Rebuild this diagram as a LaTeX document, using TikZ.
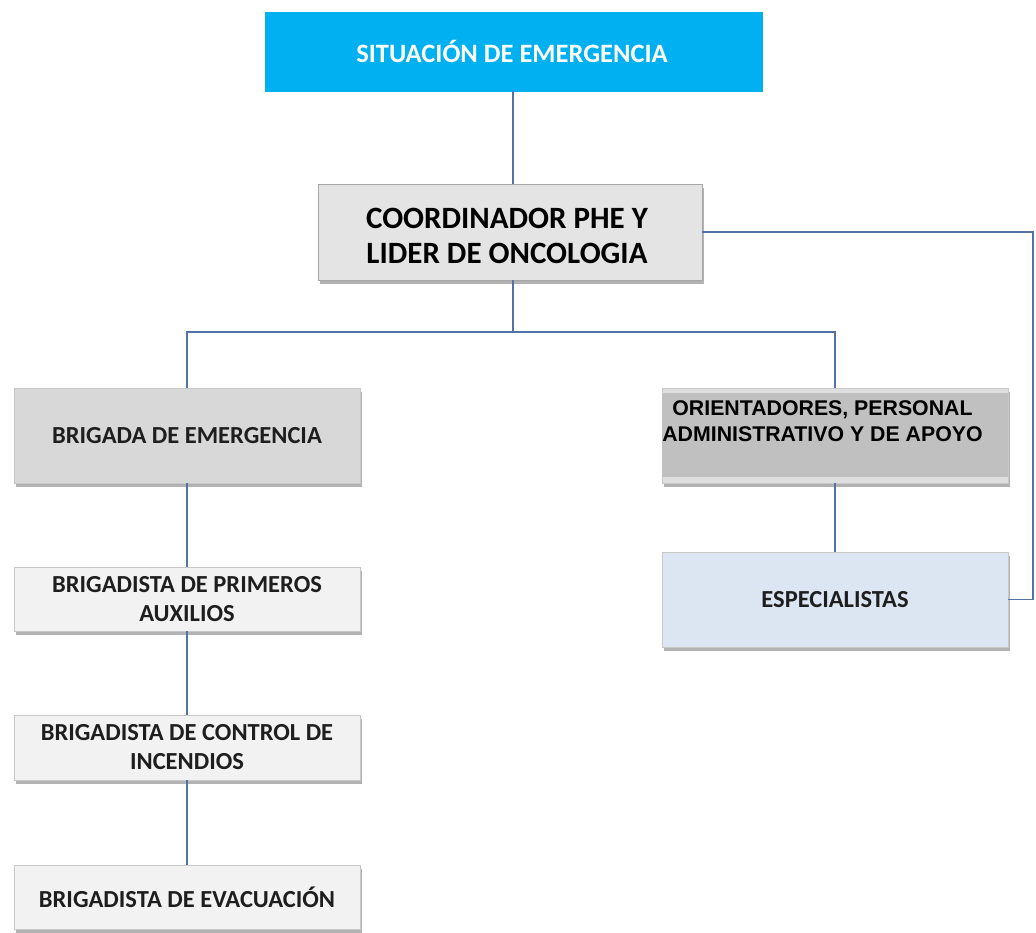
\documentclass[tikz,border=0pt]{standalone}
\usepackage{fontspec}
\setmainfont{Carlito}
\newfontfamily\arialfont{Liberation Sans}
\usetikzlibrary{shadows}
\definecolor{cyanbox}{RGB}{0,176,240}
\definecolor{linecol}{RGB}{84,114,163}
\definecolor{boxedge}{RGB}{200,200,200}
\definecolor{coordfill}{RGB}{228,228,228}
\definecolor{brigfill}{RGB}{216,216,216}
\definecolor{orfill}{RGB}{192,192,192}
\definecolor{orlight}{RGB}{222,222,222}
\definecolor{espfill}{RGB}{220,230,242}
\definecolor{subfill}{RGB}{242,242,242}
\definecolor{txt}{RGB}{30,30,30}
\tikzset{
  plainbox/.style={draw=boxedge, line width=0.8pt, rectangle, inner sep=0pt, align=center,
    text=txt, font=\bfseries\fontsize{24.5}{29}\selectfont},
  box/.style={plainbox,
    drop shadow={shadow xshift=2pt, shadow yshift=-3.5pt, fill=black!60, opacity=0.5}},
  conn/.style={draw=linecol, line width=1.2pt}
}
\begin{document}
\begin{tikzpicture}[x=1pt,y=-1pt]
\useasboundingbox (0,0) rectangle (1036,932);
\coordinate (sitB) at (513,91);
\node[plainbox, fill=cyanbox, draw=cyanbox, minimum width=497pt, minimum height=79pt] (sit) at (513.5,51.5) {};
\node[text=white, inner sep=0pt, font=\bfseries\fontsize{26.5}{30}\selectfont] (sitT) at (512,51) {SITUACIÓN DE EMERGENCIA};
\node[box, fill=coordfill, draw=black!35, minimum width=384pt, minimum height=96pt] (coord) at (510,232) {};
\node[align=center, inner sep=0pt, text=black, font=\bfseries\fontsize{31}{35}\selectfont] (coordT) at (507,236) {COORDINADOR PHE Y\\LIDER DE ONCOLOGIA};
\node[box, fill=brigfill, minimum width=346pt, minimum height=95pt] (brig) at (187,435.5) {BRIGADA DE EMERGENCIA};
\node[box, fill=orlight, minimum width=346pt, minimum height=95pt] (orient) at (835,435.5) {};
\fill[orfill] ([yshift=-5pt]orient.north west) rectangle ([yshift=6pt]orient.south east);
\node[align=center, inner sep=0pt, text=black, font=\arialfont\bfseries\fontsize{21.3}{26.5}\selectfont] (orientT) at (822.5,421) {ORIENTADORES, PERSONAL\\ADMINISTRATIVO Y DE APOYO};
\node[box, fill=espfill, minimum width=346pt, minimum height=95pt] (esp) at (835,599.5) {ESPECIALISTAS};
\node[box, fill=subfill, minimum width=346pt, minimum height=64pt] (prim) at (187,599) {BRIGADISTA DE PRIMEROS\\AUXILIOS};
\node[box, fill=subfill, minimum width=346pt, minimum height=65pt] (ctrl) at (187,747.5) {BRIGADISTA DE CONTROL DE\\INCENDIOS};
\node[box, fill=subfill, minimum width=346pt, minimum height=64pt] (evac) at (187,897) {BRIGADISTA DE EVACUACIÓN};
% connectors
\draw[conn] (sit.south -| sitB) -- (coord.north -| sitB);
\coordinate (jn) at (513,332);
\draw[conn] (coord.south -| jn) -- (jn);
\draw[conn] (brig.north) |- (jn) -| (orient.north);
\coordinate (rt) at (1033,232);
\draw[conn] (coord.east) -- (rt) |- (esp.east);
\draw[conn] (orient.south) -- (esp.north);
\draw[conn] (brig.south) -- (prim.north);
\draw[conn] (prim.south) -- (ctrl.north);
\draw[conn] (ctrl.south) -- (evac.north);
\end{tikzpicture}
\end{document}
